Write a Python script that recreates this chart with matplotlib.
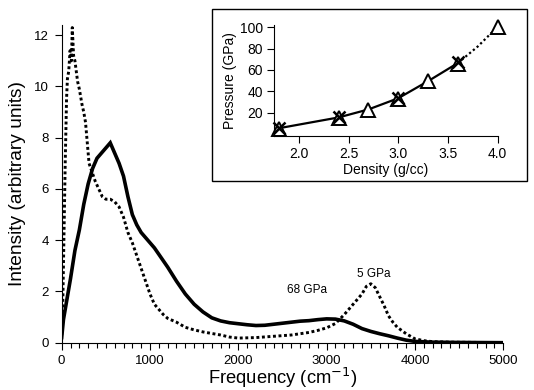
import matplotlib
matplotlib.use("Agg")
import matplotlib.pyplot as plt
from matplotlib.patches import Rectangle

plt.rcParams["font.family"] = ["Liberation Sans", "DejaVu Sans"]

# 68 GPa spectrum (solid)
freq_68 = [0, 20, 50, 100, 150, 200, 250, 300, 350, 400, 450, 500, 550, 600, 650,
           700, 750, 800, 850, 900, 950, 1000, 1050, 1100, 1150, 1200, 1300, 1400,
           1500, 1600, 1700, 1800, 1900, 2000, 2100, 2200, 2300, 2400, 2500, 2600,
           2700, 2800, 2900, 3000, 3100, 3200, 3300, 3400, 3500, 3600, 3700, 3800,
           3900, 4000, 4200, 4500, 5000]
int_68 = [0.2, 0.9, 1.5, 2.5, 3.6, 4.4, 5.4, 6.2, 6.8, 7.2, 7.4, 7.6, 7.8, 7.4, 7.0,
          6.5, 5.7, 5.0, 4.6, 4.3, 4.1, 3.9, 3.7, 3.45, 3.2, 2.95, 2.4, 1.9,
          1.5, 1.2, 0.97, 0.85, 0.78, 0.74, 0.7, 0.67, 0.68, 0.72, 0.76, 0.8,
          0.84, 0.86, 0.9, 0.93, 0.92, 0.85, 0.72, 0.55, 0.44, 0.35, 0.27, 0.18,
          0.1, 0.05, 0.02, 0.01, 0.0]

# 5 GPa spectrum (dotted)
freq_5 = [0, 10, 25, 40, 55, 65, 80, 95, 110, 120, 135, 150, 165, 180, 200, 230,
          250, 270, 290, 310, 340, 380, 420, 460, 500, 550, 600, 650, 700, 750,
          800, 850, 900, 950, 1000, 1050, 1100, 1150, 1200, 1300, 1400, 1500,
          1600, 1700, 1800, 1900, 2000, 2200, 2400, 2600, 2800, 2900, 3000, 3100,
          3200, 3300, 3400, 3450, 3500, 3550, 3600, 3650, 3700, 3750, 3800, 3900,
          4000, 4100, 4200, 4400, 5000]
int_5 = [0.3, 1.0, 4.0, 7.0, 9.5, 10.3, 10.6, 11.4, 11.0, 12.3, 11.2, 11.0, 10.6,
         10.2, 9.9, 9.3, 9.0, 8.6, 7.8, 7.0, 6.7, 6.3, 6.0, 5.7, 5.6, 5.6, 5.5,
         5.3, 4.9, 4.3, 3.9, 3.4, 2.9, 2.4, 1.9, 1.5, 1.3, 1.1, 0.95, 0.8, 0.6,
         0.5, 0.42, 0.36, 0.3, 0.22, 0.18, 0.2, 0.25, 0.3, 0.4, 0.48, 0.58, 0.75,
         1.1, 1.5, 1.9, 2.2, 2.3, 2.15, 1.8, 1.45, 1.05, 0.8, 0.6, 0.35, 0.15,
         0.08, 0.04, 0.02, 0.0]

# inset: pressure vs density
dens_x = [1.8, 2.4, 3.0, 3.6]
press_x = [5.4, 15.7, 34.0, 67.0]
dens_tri = [1.8, 2.4, 2.7, 3.0, 3.3, 3.6, 4.0]
press_tri = [5.0, 15.0, 22.5, 32.5, 50.0, 66.0, 100.5]
fit_solid_x = [1.8, 2.4, 2.7, 3.0, 3.3, 3.6]
fit_solid_y = [5.4, 15.5, 23.0, 33.5, 49.5, 66.5]
fit_dot_x = [3.6, 3.8, 4.0]
fit_dot_y = [66.5, 82.0, 100.5]

fig = plt.figure(figsize=(5.34, 3.90), dpi=100)
ax = fig.add_axes([0.1155, 0.1213, 0.827, 0.8146])
ax.plot(freq_68, int_68, color="black", lw=2.6, solid_joinstyle="miter")
ax.plot(freq_5, int_5, color="black", lw=2.1, linestyle=(0, (1, 0.9)))
ax.set_xlim(0, 5000)
ax.set_ylim(0, 12.4)
for s in ("top", "right"):
    ax.spines[s].set_visible(False)
ax.set_xticks(range(0, 5001, 1000))
ax.set_xticks(range(0, 5001, 100), minor=True)
ax.set_yticks(range(0, 13, 2))
ax.tick_params(direction="out", length=5, width=0.8, labelsize=9.5, pad=4)
ax.tick_params(which="minor", direction="out", length=3.5, width=0.8)
ax.set_xlabel("Frequency (cm$^{-1}$)", fontsize=13.2, labelpad=-1)
ax.set_ylabel("Intensity (arbitrary units)", fontsize=13.8, labelpad=6)
ax.text(3530, 2.7, "5 GPa", fontsize=8.5, ha="center", va="center")
ax.text(2780, 2.06, "68 GPa", fontsize=8.5, ha="center", va="center")

# inset frame
fig.patches.append(Rectangle((0.397, 0.536), 0.590, 0.441, transform=fig.transFigure,
                             facecolor="white", edgecolor="black", lw=1.0, zorder=5))

ins = fig.add_axes([0.513, 0.651, 0.419, 0.2846], zorder=6)
ins.patch.set_alpha(0)
ins.plot(fit_solid_x, fit_solid_y, color="black", lw=1.6)
ins.plot(fit_dot_x, fit_dot_y, color="black", lw=1.6, linestyle=(0, (1, 1.2)))
ins.plot(dens_tri, press_tri, linestyle="none", marker="^", ms=10, mfc="white",
         mec="black", mew=1.4, clip_on=False)
ins.plot(dens_x, press_x, linestyle="none", marker="x", ms=9, color="black",
         mew=1.8, clip_on=False)
ins.set_xlim(1.75, 4.0)
ins.set_ylim(-2, 102)
for s in ("top", "right"):
    ins.spines[s].set_visible(False)
ins.set_xticks([2.0, 2.5, 3.0, 3.5, 4.0])
ins.set_xticklabels(["2.0", "2.5", "3.0", "3.5", "4.0"])
ins.set_yticks([20, 40, 60, 80, 100])
ins.tick_params(direction="out", length=5, width=0.8, labelsize=10, pad=3)
ins.set_xlabel("Density (g/cc)", fontsize=10, labelpad=1)
ins.set_ylabel("Pressure (GPa)", fontsize=10, labelpad=2)

fig.savefig("out.png", dpi=100)
